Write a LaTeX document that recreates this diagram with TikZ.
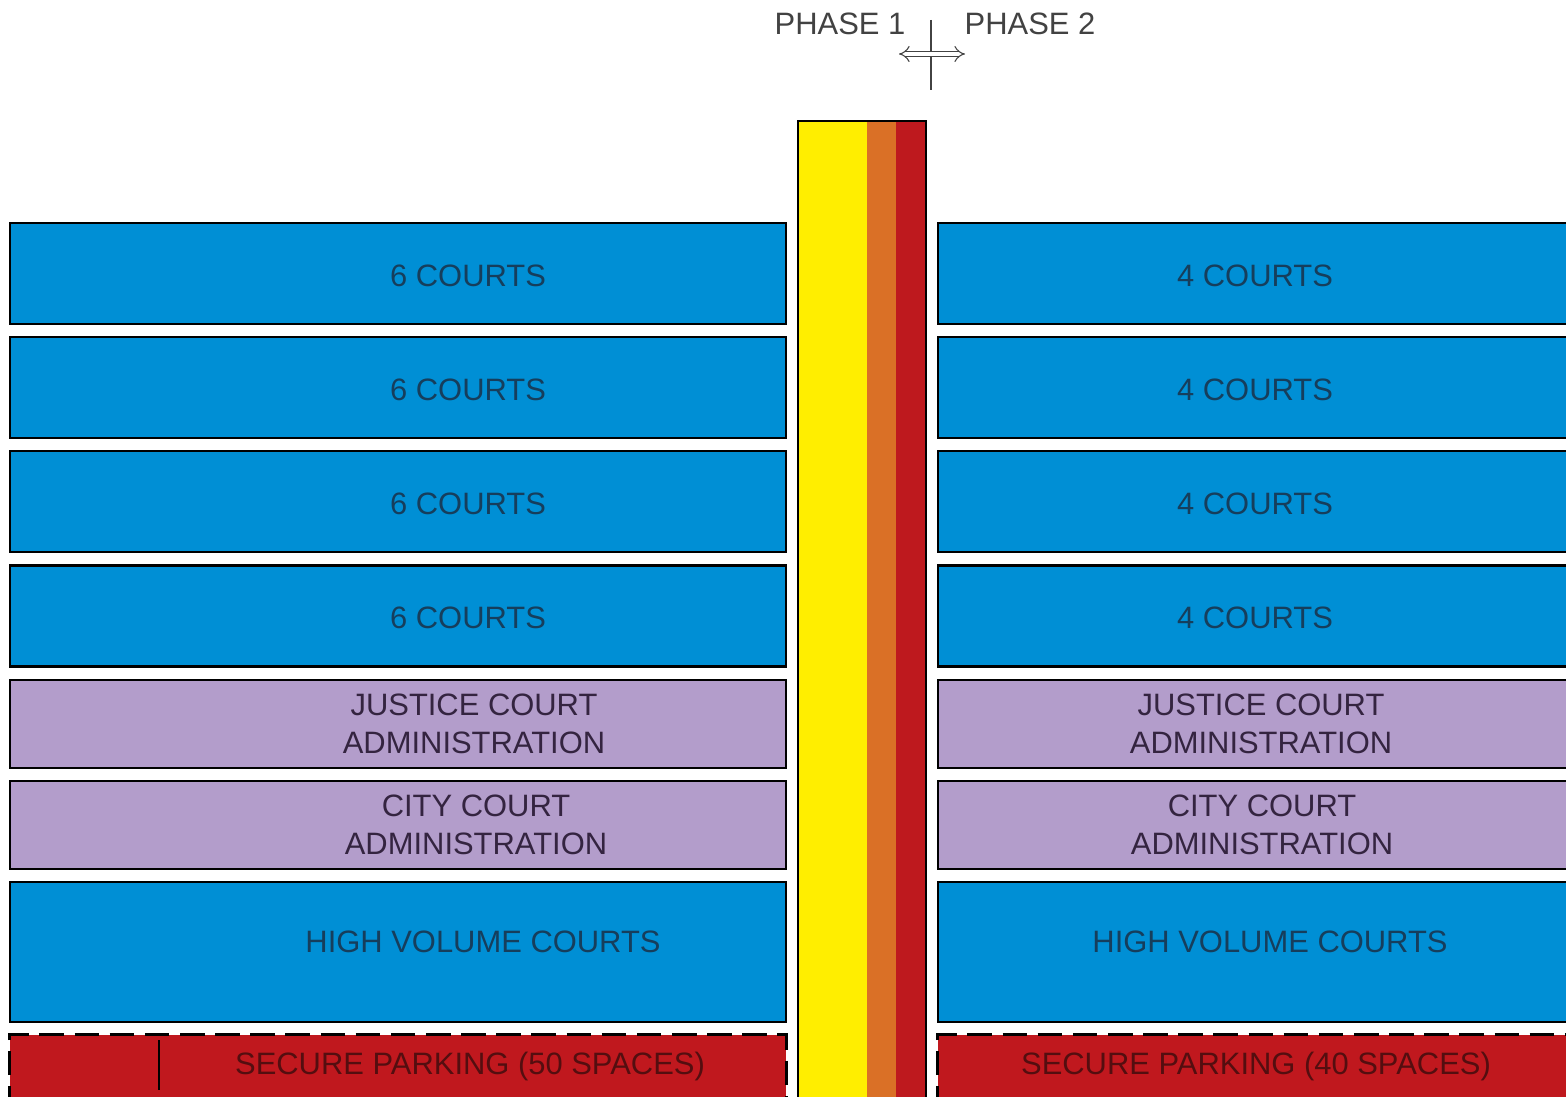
\documentclass[tikz,border=0pt]{standalone}
\usepackage{fontspec}
\setmainfont{Liberation Sans}
\usetikzlibrary{positioning, arrows.meta}
\definecolor{CourtBlue}{RGB}{0, 143, 213}
\definecolor{AdminPurple}{RGB}{179, 157, 203}
\definecolor{ParkRed}{RGB}{192, 24, 30}
\definecolor{CoreYellow}{RGB}{255, 238, 0}
\definecolor{CoreOrange}{RGB}{218, 112, 38}
\definecolor{CoreRed}{RGB}{190, 25, 30}
\definecolor{BlueText}{RGB}{22, 62, 92}
\definecolor{PurpleText}{RGB}{52, 36, 64}
\definecolor{RedText}{RGB}{84, 14, 16}
\definecolor{PhaseGray}{RGB}{66, 66, 66}

\begin{document}
\begin{tikzpicture}[
    x=0.02cm, y=-0.02cm,
    every node/.style={font=\fontsize{17.6pt}{21.5pt}\selectfont, inner sep=0pt},
    box/.style={draw=black, line width=1.4pt, minimum height=#1},
    court/.style={box=2.02cm, fill=CourtBlue},
    admin/.style={box=1.76cm, fill=AdminPurple},
    bluetext/.style={text=BlueText},
    purpletext/.style={text=PurpleText, align=center},
    redtext/.style={text=RedText},
    leftcol/.style={minimum width=15.52cm},
    rightcol/.style={minimum width=13.6cm},
    phase/.style={text=PhaseGray},
    marker/.style={PhaseGray, line width=1pt},
    parkline/.style={dash pattern=on 14pt off 6pt, line width=1.4pt}
  ]
    \useasboundingbox (0,0) rectangle (1566,1097);
    \clip (0,0) rectangle (1566,1097);

    % Court floors
    \foreach \i/\y in {1/273.5, 2/387.5, 3/501.5, 4/616} {
      \node[court, leftcol] (L\i) at (398,\y) {};
      \node[court, rightcol] (R\i) at (1278,\y) {};
      \node[bluetext] (Lt\i) at (468,\y+2) {6 COURTS};
      \node[bluetext] (Rt\i) at (1255,\y+2) {4 COURTS};
    }

    % Administration floors
    \node[admin, leftcol] (L5) at (398,724) {};
    \node[admin, rightcol] (R5) at (1278,724) {};
    \node[purpletext] (Lt5) at (474,724) {JUSTICE COURT\\ADMINISTRATION};
    \node[purpletext] (Rt5) at (1261,724) {JUSTICE COURT\\ADMINISTRATION};
    \node[admin, leftcol] (L6) at (398,825) {};
    \node[admin, rightcol] (R6) at (1278,825) {};
    \node[purpletext] (Lt6) at (476,825) {CITY COURT\\ADMINISTRATION};
    \node[purpletext] (Rt6) at (1262,825) {CITY COURT\\ADMINISTRATION};

    % High volume floor
    \node[court, leftcol, minimum height=2.8cm] (L7) at (398,952) {};
    \node[court, rightcol, minimum height=2.8cm] (R7) at (1278,952) {};
    \node[bluetext] (Lt7) at (483,942) {HIGH VOLUME COURTS};
    \node[bluetext] (Rt7) at (1270,942) {HIGH VOLUME COURTS};

    % Parking
    \node[fill=ParkRed, leftcol, minimum height=1.5cm] (L8) at (398,1072.5) {};
    \node[fill=ParkRed, rightcol, minimum height=1.5cm] (R8) at (1278,1072.5) {};
    \draw[parkline] (L8.south west) -- (L8.north west) -- (L8.north east) -- (L8.south east);
    \draw[parkline] (R8.south west) -- (R8.north west) -- (R8.north east);
    \coordinate (cut1) at (159,1040);
    \coordinate (cut2) at (159,1090);
    \draw[black, line width=0.8pt] (cut1) -- (cut2);
    \node[redtext] (Lt8) at (470,1066) {SECURE PARKING (50 SPACES)};
    \node[redtext] (Rt8) at (1256,1066) {SECURE PARKING (40 SPACES)};

    % Core
    \fill[CoreYellow] (798,121) rectangle (867,1110);
    \fill[CoreOrange] (867,121) rectangle (896,1110);
    \fill[CoreRed] (896,121) rectangle (926,1110);
    \node[draw=black, line width=1.4pt, minimum width=2.56cm, minimum height=19.78cm] (core) at (862,615.5) {};

    % Phase marker
    \node[phase] (p1) at (840,24) {PHASE 1};
    \node[phase] (p2) at (1030,24) {PHASE 2};
    \coordinate (mtop) at (931,20);
    \coordinate (mbot) at (931,90);
    \coordinate (aleft) at (899,54);
    \coordinate (aright) at (965,54);
    \draw[marker] (mtop) -- (mbot);
    \draw[PhaseGray, line width=0.6pt, double=white, double distance=2.6pt, {Implies[length=6pt, width=12pt]}-{Implies[length=6pt, width=12pt]}] (aleft) -- (aright);
  \end{tikzpicture}
\end{document}
